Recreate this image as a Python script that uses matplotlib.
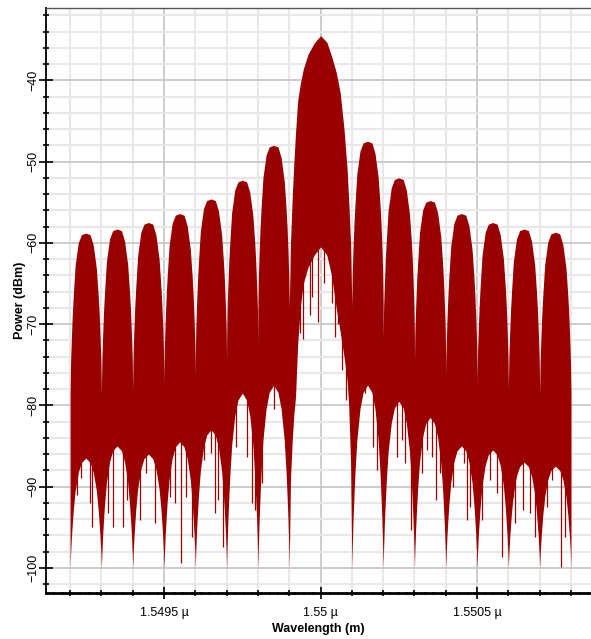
import numpy as np
import matplotlib.pyplot as plt
from matplotlib.ticker import MultipleLocator, FuncFormatter

plt.rcParams['font.family'] = ['Liberation Sans', 'DejaVu Sans']

RED = '#990000'

# lobe layout (nm): 7 side lobes each side of the double-width main lobe
lobe_width = 0.1
left_start = [1549.2, 1549.3, 1549.4, 1549.5, 1549.6, 1549.7, 1549.8]
main_start = 1549.9
right_start = [1550.1, 1550.2, 1550.3, 1550.4, 1550.5, 1550.6, 1550.7]

# peak power of each side lobe (dBm)
left_peak = [-58.8, -58.3, -57.5, -56.4, -54.6, -52.3, -48.0]
right_peak = [-47.5, -52.0, -54.8, -56.4, -57.5, -58.3, -58.7]

# lower edge of the solid red band in the middle of each side lobe (dBm)
left_floor = [-86.5, -85.0, -86.0, -84.5, -83.0, -78.5, -77.5]
right_floor = [-77.5, -79.5, -81.5, -85.0, -85.5, -87.0, -87.5]

# side lobe profile: position inside the lobe, top relative to peak (dB),
# and how far the lower edge rises from -100 toward the lobe floor
side_u = [0, 0.015, 0.04, 0.07, 0.1, 0.16, 0.26, 0.36, 0.5,
          0.64, 0.74, 0.84, 0.9, 0.93, 0.96, 0.985, 1.0]
side_top_rel = [-20, -16, -13.0, -10.0, -7.8, -4.0, -1.2, -0.2, 0,
                -0.2, -1.5, -4.4, -7.8, -10.0, -13.0, -16, -20]
side_floor_frac = [0, 0.12, 0.27, 0.4, 0.52, 0.7, 0.87, 0.96, 1,
                   0.96, 0.87, 0.7, 0.52, 0.4, 0.27, 0.12, 0]

# main lobe (offset from 1549.9 nm), top and bottom edge in dBm
main_off = [0, 0.004, 0.01, 0.015, 0.02, 0.027, 0.035, 0.045, 0.06, 0.08,
            0.1, 0.12, 0.135, 0.15, 0.163, 0.175, 0.185, 0.19, 0.196, 0.2]
main_top = [-68, -60, -54, -50, -46.5, -42.5, -40.5, -38.6, -36.8, -35.4,
            -34.5, -35.3, -37, -39, -41.6, -46, -51, -54.8, -60, -68]
main_floor = [-100, -89, -84, -81, -79, -72.5, -68, -65, -63, -61.5,
              -60.5, -61.5, -64, -68, -71, -74, -77, -80, -87, -100]

# thin dips hanging below the solid band (nm, dBm)
spike_nm = [1549.221, 1549.234, 1549.262, 1549.270,
            1549.320, 1549.338, 1549.370, 1549.381,
            1549.423, 1549.442, 1549.471,
            1549.519, 1549.535, 1549.554, 1549.570, 1549.588,
            1549.628, 1549.650, 1549.663, 1549.673, 1549.689,
            1549.729, 1549.766, 1549.780, 1549.791,
            1549.812, 1549.826, 1549.851, 1549.880,
            1549.935, 1549.945, 1549.966, 1549.974, 1549.993, 1550.011,
            1550.036, 1550.046, 1550.057, 1550.068, 1550.081,
            1550.107, 1550.116, 1550.126, 1550.142, 1550.169, 1550.180,
            1550.243, 1550.259, 1550.270, 1550.288,
            1550.323, 1550.339, 1550.355, 1550.369, 1550.382,
            1550.414, 1550.424, 1550.458, 1550.467, 1550.478,
            1550.515, 1550.542, 1550.565, 1550.579,
            1550.614, 1550.621, 1550.648, 1550.669, 1550.685,
            1550.712, 1550.725, 1550.739, 1550.749, 1550.767, 1550.781]
spike_bottom = [-91.0, -89.0, -92.0, -95.0,
                -93.2, -95.0, -95.0, -91.6,
                -94.1, -88.3, -94.5,
                -91.3, -92.0, -99.4, -91.3, -96.2,
                -86.7, -85.9, -93.2, -91.6, -97.4,
                -85.1, -86.4, -92.0, -92.9,
                -89.6, -80.2, -80.5, -81.5,
                -71.1, -71.8, -68.9, -66.7, -69.8, -65.0,
                -67.4, -71.6, -70.0, -75.7, -79.3,
                -87.6, -77.7, -79.0, -78.5, -85.1, -88.0,
                -86.4, -84.3, -87.1, -95.3,
                -88.3, -85.5, -86.4, -91.6, -88.3,
                -88.8, -90.0, -87.1, -94.1, -92.5,
                -94.1, -89.2, -90.8, -98.7,
                -91.3, -94.5, -92.9, -93.2, -96.2,
                -92.5, -92.5, -89.2, -87.1, -99.9, -96.2]

# assemble the band edges
xs, tops, floors = [], [], []
for start, peak, flo in zip(left_start, left_peak, left_floor):
    xs += [start + lobe_width * u for u in side_u]
    tops += [peak + r for r in side_top_rel]
    floors += [-100 + f * (flo + 100) for f in side_floor_frac]
xs += [main_start + o for o in main_off]
tops += main_top
floors += main_floor
for start, peak, flo in zip(right_start, right_peak, right_floor):
    xs += [start + lobe_width * u for u in side_u]
    tops += [peak + r for r in side_top_rel]
    floors += [-100 + f * (flo + 100) for f in side_floor_frac]

fig = plt.figure(figsize=(5.91, 6.39), dpi=100)
ax = fig.add_axes([46 / 591, 1 - 593 / 639, 1 - 46 / 591, (593 - 8) / 639])

ax.fill_between(xs, floors, tops, color=RED, lw=0, zorder=3)

spike_nm = np.array(spike_nm)
in_main = (spike_nm > 1549.9) & (spike_nm < 1550.1)
spike_top = np.where(in_main, -60, -76)
ax.vlines(spike_nm, spike_bottom, spike_top, color=RED, lw=0.9, zorder=3)

ax.set_xlim(1549.123, 1550.864)
ax.set_ylim(-103.1, -31.1)

ax.xaxis.set_major_locator(MultipleLocator(0.5))
ax.xaxis.set_minor_locator(MultipleLocator(0.1))
ax.yaxis.set_major_locator(MultipleLocator(10))
ax.yaxis.set_minor_locator(MultipleLocator(2))


def um_label(v, pos):
    s = f"{v / 1000:.4f}".rstrip('0')
    return s + " µ"


ax.xaxis.set_major_formatter(FuncFormatter(um_label))

ax.set_axisbelow(True)
ax.grid(which='minor', color='#e8e8e8', lw=1.6)
ax.grid(which='major', color='#c8c8c8', lw=1.3)

ax.tick_params(axis='y', which='major', direction='inout', length=10, width=1.2,
               labelsize=9, labelrotation=90, pad=0)
ax.tick_params(axis='y', which='minor', direction='inout', length=5, width=1.2)
ax.tick_params(axis='x', which='major', direction='inout', length=8, width=1.2,
               labelsize=9, pad=6)
ax.tick_params(axis='x', which='minor', direction='inout', length=4, width=1.2)
for lab in ax.get_yticklabels():
    lab.set_va('center')

ax.spines['right'].set_visible(False)
ax.spines['left'].set_linewidth(1.3)
ax.spines['bottom'].set_linewidth(2.0)
ax.spines['bottom'].set_linestyle((0, (2.5, 0.6)))
ax.spines['top'].set_linewidth(1.0)
ax.spines['top'].set_linestyle((0, (1, 1)))
ax.spines['top'].set_color('#555555')

ax.set_xlabel('Wavelength (m)', fontsize=9, fontweight='bold', labelpad=3)
ax.set_ylabel('Power (dBm)', fontsize=9, fontweight='bold', labelpad=1)

fig.savefig('out.png', dpi=100)
